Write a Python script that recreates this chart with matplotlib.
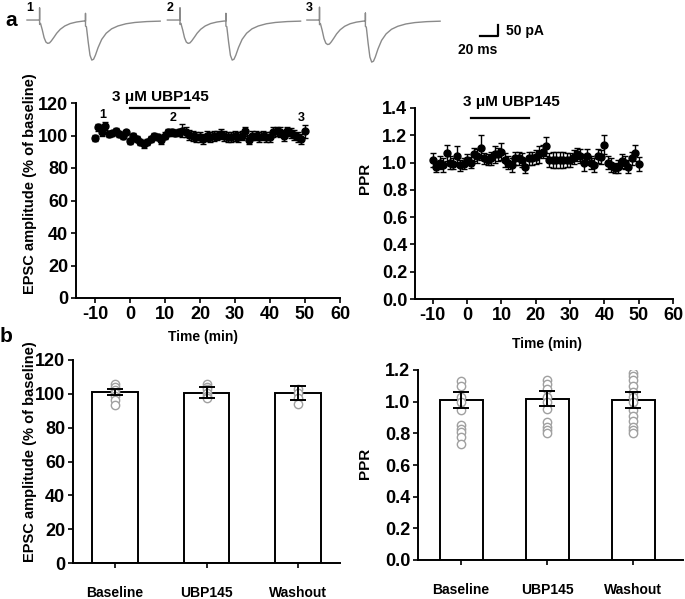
import numpy as np
import matplotlib
matplotlib.use("Agg")
import matplotlib.pyplot as plt

plt.rcParams['font.family'] = ['Liberation Sans', 'DejaVu Sans']
plt.rcParams['font.weight'] = 'bold'
plt.rcParams['axes.unicode_minus'] = False

# ---- example sweeps (ms, pA) ----
trace_t = [0, 14, 14, 14, 15, 17, 19, 21, 23, 25, 27, 30, 33, 37, 42, 48, 55, 62,
           65, 65, 65, 66, 68, 70, 72, 74, 76, 79, 83, 88, 94, 101, 110, 120, 133, 148]
trace_i = [0, 0, 55, -20, -15, -45, -80, -100, -106, -104, -95, -78, -60, -42, -27, -16, -9, -5,
           -4, 30, -28, -30, -100, -160, -182, -178, -160, -125, -88, -60, -40, -27, -17, -11, -7, -5]
sweep_scale = [1.0, 1.0, 1.05]
sweep_labels = ['1', '2', '3']

# ---- time course ----
time_min = list(range(-10, 51))
epsc_mean = [98.4, 105, 102, 106, 101, 101.5, 103, 101, 99.5, 102,
             96.5, 99.5, 98, 96, 94.5, 96, 98, 99.5, 99, 97,
             100, 102, 102, 101.5, 102, 103, 102, 100.5, 99.5, 99,
             99, 98, 99.5, 99, 99.5, 100, 101, 99.5, 99, 99,
             99.5, 99, 100, 102.5, 97.5, 100, 100, 99, 100, 99,
             99, 102, 102.5, 102, 99.5, 102.5, 101.5, 100.5, 99, 98, 102.5]
epsc_err = [2, 2, 2, 2.5, 2, 1.5, 1.5, 2, 1.5, 1.5,
            2, 2, 2, 2, 2, 2, 2, 2, 2, 2,
            2, 2, 2, 2, 2, 4, 3, 3, 3, 3,
            3, 3, 3, 3, 3, 3, 3, 3, 3, 3,
            3, 3, 3, 3, 3, 3, 3, 3, 3, 3,
            3, 3, 3, 3, 3, 3, 3, 3, 3, 3, 4]
ppr_mean = [1.02, 0.97, 1.0, 0.98, 1.07, 1.0, 0.99, 1.05, 0.98, 0.99,
            1.02, 1.0, 1.06, 1.05, 1.11, 1.03, 1.02, 1.03, 1.06, 1.06,
            1.08, 1.02, 1.0, 0.98, 1.03, 1.03, 1.02, 0.97, 1.03, 1.03,
            1.04, 1.06, 1.08, 1.12, 1.02, 1.02, 1.02, 1.02, 1.02, 1.02,
            1.02, 1.04, 1.06, 1.05, 1.0, 1.05, 1.0, 0.98, 1.05, 1.04,
            1.13, 1.0, 0.98, 0.96, 0.97, 1.01, 1.0, 0.97, 1.03, 1.07, 0.99]
ppr_err = [0.05, 0.04, 0.05, 0.05, 0.06, 0.05, 0.04, 0.07, 0.04, 0.04,
           0.04, 0.04, 0.05, 0.05, 0.09, 0.04, 0.04, 0.05, 0.06, 0.05,
           0.06, 0.05, 0.05, 0.05, 0.05, 0.05, 0.05, 0.05, 0.05, 0.05,
           0.05, 0.06, 0.05, 0.07, 0.05, 0.06, 0.06, 0.06, 0.06, 0.05,
           0.05, 0.05, 0.05, 0.05, 0.06, 0.05, 0.05, 0.05, 0.05, 0.05,
           0.07, 0.05, 0.05, 0.04, 0.05, 0.05, 0.05, 0.05, 0.05, 0.06, 0.05]
drug_label = '3 \u03bcM UBP145'
epsc_drug = (0, 17)
ppr_drug = (1, 18)

# ---- summary bars ----
groups = ['Baseline', 'UBP145', 'Washout']
epsc_bar = [101.2, 100.6, 100.6]
epsc_bar_err = [1.7, 3.3, 4.0]
epsc_dots = [[105.6, 104, 102, 100.6, 98.6, 96.6, 93.6],
             [106, 104, 102.6, 100.6, 99, 97.6],
             [102.6, 100.6, 97.6, 94]]
ppr_bar = [1.01, 1.02, 1.01]
ppr_bar_err = [0.05, 0.05, 0.05]
ppr_dots = [[1.13, 1.10, 1.03, 1.00, 0.95, 0.85, 0.83, 0.81, 0.78, 0.73],
            [1.14, 1.11, 1.08, 1.03, 1.00, 0.955, 0.87, 0.84, 0.82, 0.80],
            [1.18, 1.16, 1.14, 1.10, 1.06, 1.03, 1.00, 0.95, 0.91, 0.88, 0.84, 0.82, 0.80]]

W, H = 685, 599
fig = plt.figure(figsize=(W / 100, H / 100), dpi=100)


def frac(left, top, right, bottom):
    return [left / W, 1 - bottom / H, (right - left) / W, (bottom - top) / H]


def style(ax):
    for s in ['top', 'right']:
        ax.spines[s].set_visible(False)
    for s in ['left', 'bottom']:
        ax.spines[s].set_linewidth(1.4)
    ax.tick_params(width=1.2, length=3.5, labelsize=13, pad=2)
    for lab in ax.get_xticklabels() + ax.get_yticklabels():
        lab.set_fontweight('bold')


# traces strip
axt = fig.add_axes([0, 1 - 70 / H, 1, 70 / H])
axt.set_xlim(0, W / 0.9)
axt.set_ylim(-227, 91)
axt.axis('off')
offsets = [30, 186, 341]
for off, sc, lab in zip(offsets, sweep_scale, sweep_labels):
    axt.plot(np.array(trace_t) + off, np.array(trace_i) * sc, color='#8a8a8a', lw=1.0)
    axt.text(off + 3, 55, lab, fontsize=9, fontweight='bold', ha='center', va='center')
axt.plot([533, 553, 553], [-72.6, -72.6, -22.6], color='black', lw=1.6)
axt.text(562, -52, '50 pA', fontsize=10, fontweight='bold', va='center')
axt.text(531, -134, '20 ms', fontsize=10, fontweight='bold', ha='center', va='center')
fig.text(5 / W, 1 - 21 / H, 'a', fontsize=15, fontweight='bold', va='center')
fig.text(0 / W, 1 - 337 / H, 'b', fontsize=15, fontweight='bold', va='center')

# time course EPSC
ax1 = fig.add_axes(frac(76, 103, 340, 298))
ax1.errorbar(time_min, epsc_mean, yerr=epsc_err, fmt='o', color='black', ms=5,
             elinewidth=1, capsize=2.5, capthick=1)
ax1.set_xlim(-15.4, 60)
ax1.set_ylim(0, 120)
ax1.set_xticks(range(-10, 61, 10))
ax1.set_yticks(range(0, 121, 20))
ax1.plot(epsc_drug, [117, 117], color='black', lw=1.6, clip_on=False)
ax1.text(8.6, 124, drug_label, fontsize=11, fontweight='bold', ha='center', va='center')
for lab, tx, ty in zip(sweep_labels, [-7.7, 12.3, 49], [112.5, 111, 111]):
    ax1.text(tx, ty, lab, fontsize=9, fontweight='bold', ha='center', va='center')
ax1.set_xlabel('Time (min)', fontsize=10, fontweight='bold')
ax1.xaxis.set_label_coords(0.48, -0.165)
ax1.set_ylabel('EPSC amplitude (% of baseline)', fontsize=10.5, fontweight='bold')
ax1.yaxis.set_label_coords(-0.148, 0.585)
style(ax1)

# time course PPR
ax2 = fig.add_axes(frac(415, 108, 673, 299))
ax2.errorbar(time_min, ppr_mean, yerr=ppr_err, fmt='o', color='black', ms=5,
             elinewidth=1, capsize=2.5, capthick=1)
ax2.set_xlim(-15.2, 60)
ax2.set_ylim(0, 1.4)
ax2.set_xticks(range(-10, 61, 10))
ax2.set_yticks(np.arange(0, 1.41, 0.2))
ax2.yaxis.set_major_formatter(matplotlib.ticker.FormatStrFormatter('%.1f'))
ax2.plot(ppr_drug, [1.327, 1.327], color='black', lw=1.6, clip_on=False)
ax2.text(12.8, 1.444, drug_label, fontsize=11, fontweight='bold', ha='center', va='center')
ax2.set_xlabel('Time (min)', fontsize=10, fontweight='bold')
ax2.xaxis.set_label_coords(0.51, -0.2)
ax2.set_ylabel('PPR', fontsize=11, fontweight='bold')
ax2.yaxis.set_label_coords(-0.167, 0.63)
style(ax2)


def bars(ax, means, errs, dots):
    x = np.arange(len(groups))
    ax.bar(x, means, width=0.5, color='white', edgecolor='black', linewidth=1.4, zorder=1)
    for xi, d in zip(x, dots):
        ax.plot([xi] * len(d), d, 'o', mfc='white', mec='#a0a0a0', ms=6, mew=1, zorder=2)
    ax.errorbar(x, means, yerr=errs, fmt='none', ecolor='black', elinewidth=1.4,
                capsize=6, capthick=1.4, zorder=3)
    ax.set_xticks(x)
    ax.set_xticklabels(groups)
    style(ax)
    ax.tick_params(axis='x', labelsize=10, pad=13)


ax3 = fig.add_axes(frac(73, 360, 340, 563))
bars(ax3, epsc_bar, epsc_bar_err, epsc_dots)
ax3.set_xlim(-0.46, 2.46)
ax3.set_ylim(0, 120)
ax3.set_yticks(range(0, 121, 20))
ax3.set_ylabel('EPSC amplitude (% of baseline)', fontsize=10.5, fontweight='bold')
ax3.yaxis.set_label_coords(-0.135, 0.55)

ax4 = fig.add_axes(frac(418, 370, 683, 560))
bars(ax4, ppr_bar, ppr_bar_err, ppr_dots)
ax4.set_xlim(-0.5, 2.58)
ax4.set_ylim(0, 1.2)
ax4.set_yticks(np.arange(0, 1.21, 0.2))
ax4.yaxis.set_major_formatter(matplotlib.ticker.FormatStrFormatter('%.1f'))
ax4.set_ylabel('PPR', fontsize=11, fontweight='bold')
ax4.yaxis.set_label_coords(-0.174, 0.51)

fig.savefig('out.png', dpi=100)
